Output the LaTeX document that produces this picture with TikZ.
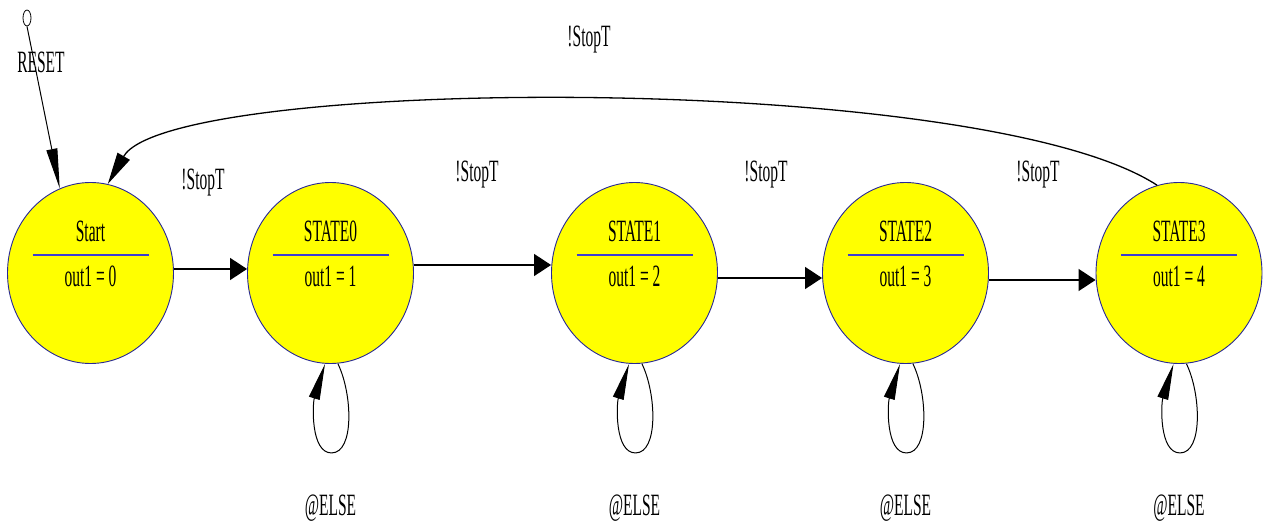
\documentclass[tikz,border=0pt]{standalone}
\usepackage{fontspec}
\newfontfamily\fsmfont[FakeStretch=0.5]{Liberation Serif}
\usetikzlibrary{shapes.geometric,arrows.meta,calc}
\definecolor{stfill}{RGB}{255,255,0}
\definecolor{stline}{RGB}{40,40,150}
\definecolor{divblue}{RGB}{60,60,210}

\begin{document}
\begin{tikzpicture}[x=1pt,y=1pt,
  txt/.style={font=\fsmfont\fontsize{31}{34}\selectfont, inner sep=0pt, anchor=base},
  state/.style={ellipse, draw=stline, line width=0.9pt, fill=stfill,
                minimum width=166pt, minimum height=181pt, inner sep=0pt},
  divider/.style={draw=divblue, line width=2pt},
  trans/.style={line width=1.4pt, -{Triangle[length=17pt,width=22pt]}},
  selfloop/.style={line width=1pt, -{Triangle[length=36pt,width=11pt]}},
  longarc/.style={line width=1.3pt, -{Triangle[length=32pt,width=14pt]}},
  resetarr/.style={line width=1pt, -{Triangle[length=40pt,width=11pt]}},
  resetdot/.style={ellipse, draw, line width=0.8pt, fill=white,
                   minimum width=8pt, minimum height=16pt, inner sep=0pt}
]
\useasboundingbox (0,0) rectangle (1264,528);

% states with their name, divider and output value
\foreach \nm/\x/\ttl/\v in {st/90.5/Start/0, s0/330.5/STATE0/1, s1/634.5/STATE1/2,
                            s2/905.5/STATE2/3, s3/1179/STATE3/4} {
  \node[state] (\nm) at (\x,255) {};
  \node[txt] (\nm-t) at ($(\nm.center)+(0,31)$) {\ttl};
  \draw[divider] ($(\nm.center)+(-58,18)$) -- ($(\nm.center)+(58,18)$);
  \node[txt] (\nm-o) at ($(\nm.center)+(0,-14)$) {out1 = \v};
}

% self loops with their labels
\foreach \nm in {s0,s1,s2,s3} {
  \draw[selfloop] ($(\nm.south)+(7.5,0)$)
      .. controls ($(\nm.south)+(22,-30)$) and ($(\nm.south)+(24,-89)$) .. ($(\nm.south)+(1,-89)$)
      .. controls ($(\nm.south)+(-20,-89)$) and ($(\nm.south)+(-18,-40)$) .. ($(\nm.south)+(-5.5,0)$);
  \node[txt] (\nm-e) at ($(\nm.south)+(0,-151.5)$) {@ELSE};
}

% forward transitions
\draw[trans] ($(st.east)+(0,4)$) -- ($(s0.west)+(0,4)$);
\draw[trans] ($(s0.east)+(0,8)$) -- ($(s1.west)+(0,8)$);
\draw[trans] ($(s1.east)+(0,-5)$) -- ($(s2.west)+(0,-5)$);
\draw[trans] ($(s2.east)+(0,-7)$) -- ($(s3.west)+(0,-7)$);

% return arc from STATE3 to Start
\draw[longarc] (s3.104) .. controls ($(s3.104)+(-177,115)$) and ($(st.79)+(62,108)$) .. (st.79);

% reset entry
\node[resetdot] (rst) at (27,510) {};
\draw[resetarr] (rst.south) -- (st.110);
\node[txt] (rstl) at (41,455) {RESET};

% transition labels
\node[txt] (l0) at (203,338) {!StopT};
\node[txt] (l1) at (477,346) {!StopT};
\node[txt] (l2) at (766,346) {!StopT};
\node[txt] (l3) at (1038,346) {!StopT};
\node[txt] (l4) at (589,481) {!StopT};
\end{tikzpicture}
\end{document}
